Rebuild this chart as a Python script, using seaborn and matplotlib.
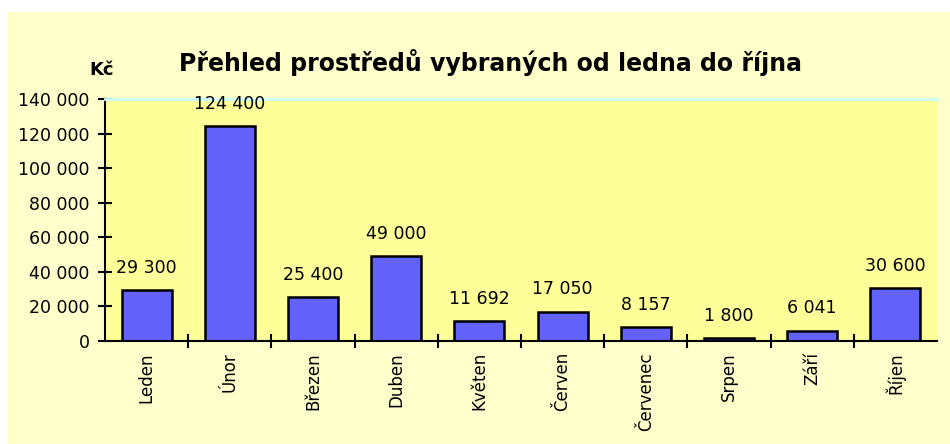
import numpy as np
import pandas as pd
import matplotlib
matplotlib.use("Agg")
import matplotlib.pyplot as plt
import seaborn as sns
from matplotlib import rcParams
from matplotlib.ticker import FuncFormatter, FixedLocator
from matplotlib.patches import Rectangle

# data
months = ["Leden", "Únor", "Březen", "Duben", "Květen", "Červen",
          "Červenec", "Srpen", "Září", "Říjen"]
amounts = [29300, 124400, 25400, 49000, 11692, 17050, 8157, 1800, 6041, 30600]
title = "Přehled prostředů vybraných od ledna do října"
unit = "Kč"

df = pd.DataFrame({"mesic": months, "castka": amounts})

sns.set_style("white")
rcParams['font.family'] = ['DejaVu Sans']
rcParams['font.size'] = 11
rcParams['text.color'] = 'black'
rcParams['xtick.color'] = 'black'
rcParams['ytick.color'] = 'black'

fig = plt.figure(figsize=(9.5, 4.44), dpi=100)
fig.patch.set_facecolor("white")
# light yellow chart area
fig.patches.append(Rectangle((8 / 950, 0), 1 - 8 / 950, 1 - 12 / 444, transform=fig.transFigure,
                             facecolor="#FFFFCC", edgecolor="none", zorder=-1))

ax = fig.add_axes([105 / 950, 103 / 444, 832 / 950, 242 / 444])
ax.set_zorder(1)
ax.set_facecolor("#FFFF99")

sns.barplot(data=df, x="mesic", y="castka", color="#6262FA", saturation=1,
            edgecolor="black", linewidth=1.8, width=0.6, ax=ax)

def fmt(v, pos=None):
    return f"{v:,.0f}".replace(",", " ")

for i, v in enumerate(amounts):
    ax.annotate(fmt(v), (i, v), xytext=(0, 16), textcoords="offset points",
                ha="center", va="center", fontsize=12.5)

ax.set_ylim(0, 140000)
ax.set_xlim(-0.5, len(months) - 0.5)
ax.yaxis.set_major_locator(FixedLocator(np.arange(0, 140001, 20000)))
ax.yaxis.set_major_formatter(FuncFormatter(fmt))
ax.tick_params(axis="y", direction="inout", length=10, width=1.5, left=True, labelsize=12.5, pad=6)

# ticks between categories, labels rotated
ax.xaxis.set_minor_locator(FixedLocator(np.arange(0.5, len(months) - 1, 1)))
ax.tick_params(axis="x", which="major", length=0, pad=8, labelsize=12, labelrotation=90)
ax.tick_params(axis="x", which="minor", direction="inout", length=10, width=1.5, bottom=True)
for lbl in ax.get_xticklabels():
    lbl.set_va("top")

ax.set_xlabel("")
ax.set_ylabel("")
ax.spines["right"].set_visible(False)
ax.spines["top"].set_color("#CCFFFF")
ax.spines["top"].set_linewidth(2)
for s in ["left", "bottom"]:
    ax.spines[s].set_linewidth(1.5)
    ax.spines[s].set_color("black")

fig.text(490 / 950, 1 - 62 / 444, title, ha="center", va="center", fontsize=17, fontweight="bold")
fig.text(102 / 950, 1 - 70 / 444, unit, ha="center", va="center", fontsize=13, fontweight="bold")

plt.savefig("out.png", dpi=100)
